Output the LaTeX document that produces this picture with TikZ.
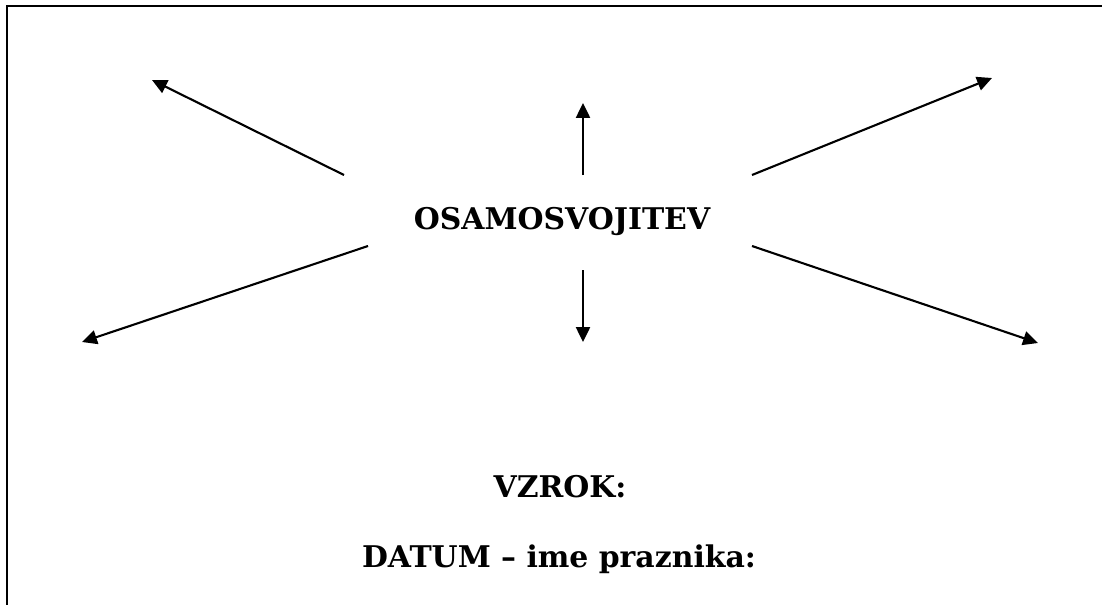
\documentclass[tikz,border=0pt]{standalone}
\usepackage{fontspec}
\setmainfont{DejaVu Serif}
\usepackage{tikz}
\usetikzlibrary{arrows.meta}

\begin{document}
\begin{tikzpicture}[x=0.02cm,y=-0.02cm]
\tikzstyle{every node}+=[inner sep=0pt]
\tikzstyle{title}=[font=\bfseries\fontsize{17}{20}\selectfont]
\tikzstyle{pointer}=[line width=1.2pt,-{Triangle[length=8.5pt,width=8pt]}]
\useasboundingbox (0,0) rectangle (1102,605);
\draw [line width=1.4pt] (7,605) -- (7,6) -- (1102,6);
\node [title] (osam) at (562,222) {OSAMOSVOJITEV};
\node [title] (vzrok) at (560,487) {VZROK:};
\node [title] (datum) at (559,559) {DATUM -- ime praznika:};
% start and end of the arrows
\coordinate (ulS) at (344,175); \coordinate (ulE) at (152,80);
\coordinate (llS) at (368,246); \coordinate (llE) at (82,342);
\coordinate (urS) at (752,175); \coordinate (urE) at (992,78);
\coordinate (lrS) at (752,246); \coordinate (lrE) at (1038,343);
\coordinate (upS) at (583,175); \coordinate (upE) at (583,103);
\coordinate (dnS) at (583,270); \coordinate (dnE) at (583,342);
\draw [pointer] (ulS) -- (ulE);
\draw [pointer] (llS) -- (llE);
\draw [pointer] (urS) -- (urE);
\draw [pointer] (lrS) -- (lrE);
\draw [pointer] (upS) -- (upE);
\draw [pointer] (dnS) -- (dnE);
\end{tikzpicture}
\end{document}
